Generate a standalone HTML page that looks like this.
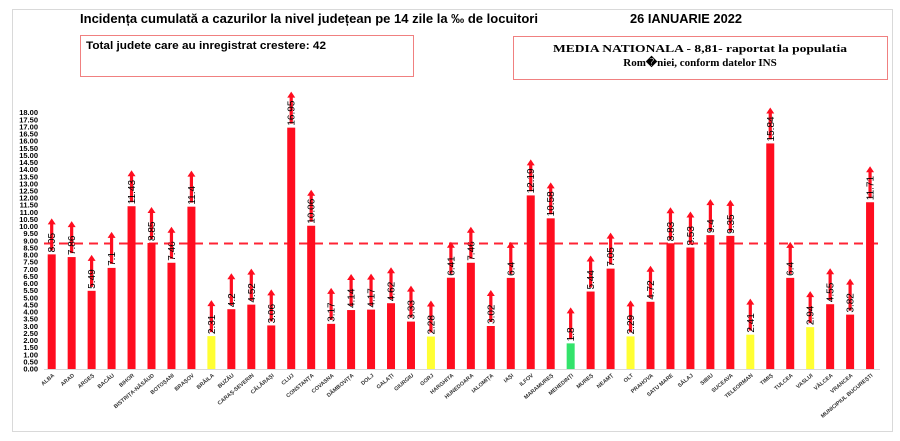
<!DOCTYPE html>
<html><head><meta charset="utf-8">
<style>
html,body{margin:0;padding:0;background:#fff;}
svg{display:block;font-family:"Liberation Sans",sans-serif;}
</style></head>
<body>
<svg id="chart" width="900" height="441" viewBox="0 0 900 441">
  <rect x="12.5" y="9.5" width="880" height="422" fill="#fff" stroke="#d9d9d9"/>
  <text x="80" y="23" font-size="13" font-weight="bold" textLength="458" lengthAdjust="spacingAndGlyphs">Incidența cumulată a cazurilor la nivel județean pe 14 zile la ‰ de locuitori</text>
  <text x="630" y="23" font-size="13" font-weight="bold" textLength="112" lengthAdjust="spacingAndGlyphs">26 IANUARIE 2022</text>
  <rect x="80.5" y="35.5" width="333" height="41" fill="#fff" stroke="#f08080"/>
  <text x="86" y="49" font-size="11" font-weight="bold" textLength="240" lengthAdjust="spacingAndGlyphs">Total judete care au inregistrat crestere: 42</text>
  <rect x="513.5" y="36.5" width="374" height="43" fill="#fff" stroke="#f08080"/>
  <text x="700" y="52" font-size="11" font-weight="bold" font-family="Liberation Serif,serif" text-anchor="middle" textLength="294" lengthAdjust="spacingAndGlyphs">MEDIA NATIONALA - 8,81-  raportat la populatia</text>
  <text x="700" y="66" font-size="11" font-weight="bold" font-family="Liberation Serif,serif" text-anchor="middle">Rom�niei, conform datelor INS</text>
  <g id="yaxis"></g>
  <g id="bars"></g>
  <g id="xlabels"></g>
</svg>
<script>
const categories=["ALBA","ARAD","ARGEȘ","BACĂU","BIHOR","BISTRIȚA-NĂSĂUD","BOTOȘANI","BRAȘOV","BRĂILA","BUZĂU","CARAȘ-SEVERIN","CĂLĂRAȘI","CLUJ","CONSTANȚA","COVASNA","DÂMBOVIȚA","DOLJ","GALAȚI","GIURGIU","GORJ","HARGHITA","HUNEDOARA","IALOMIȚA","IAȘI","ILFOV","MARAMUREȘ","MEHEDINȚI","MUREȘ","NEAMȚ","OLT","PRAHOVA","SATU MARE","SĂLAJ","SIBIU","SUCEAVA","TELEORMAN","TIMIȘ","TULCEA","VASLUI","VÂLCEA","VRANCEA","MUNICIPIUL BUCUREȘTI"];
const values=[8.05,7.86,5.49,7.1,11.43,8.85,7.46,11.4,2.31,4.2,4.52,3.06,16.95,10.06,3.17,4.14,4.17,4.62,3.33,2.28,6.41,7.46,3.02,6.4,12.19,10.58,1.8,5.44,7.05,2.29,4.72,8.83,8.53,9.4,9.35,2.41,15.84,6.4,2.94,4.55,3.82,11.71];
const colorClass=["r","r","r","r","r","r","r","r","y","r","r","r","r","r","r","r","r","r","r","y","r","r","r","r","r","r","g","r","r","y","r","r","r","r","r","y","r","r","y","r","r","r"];
const nationalAverage=8.81;
const yTicks=[0,0.5,1,1.5,2,2.5,3,3.5,4,4.5,5,5.5,6,6.5,7,7.5,8,8.5,9,9.5,10,10.5,11,11.5,12,12.5,13,13.5,14,14.5,15,15.5,16,16.5,17,17.5,18];

const NS="http://www.w3.org/2000/svg";
const y0=369, pxPerUnit=14.24, x0=51.7, step=19.96, bw=8;
const Y=v=>y0-v*pxPerUnit, X=i=>x0+i*step;
const fills={r:"#ff0d1f",y:"#ffff33",g:"#33e36b"};
function mk(t,a,p){const e=document.createElementNS(NS,t);for(const k in a)e.setAttribute(k,a[k]);p.appendChild(e);return e;}
const ya=document.getElementById('yaxis');
yTicks.forEach(t=>{
  const e=mk('text',{x:38,y:Y(t)+2.5,'font-size':7.5,'font-weight':'bold','text-anchor':'end'},ya);
  
  
  e.textContent=t.toFixed(2);
});
const axis=mk('line',{x1:44,x2:880,y1:y0+0.5,y2:y0+0.5,stroke:'#d9d9d9'},ya);


const bars=document.getElementById('bars');
values.forEach((v,i)=>{
  const cx=X(i), top=Y(v);
  const b=mk('rect',{x:cx-bw/2,y:top,width:bw,height:y0-top,fill:fills[colorClass[i]]},bars);
  
  
  const ar=mk('path',{d:`M${cx-1.6} ${top-4}V${top-30}H${cx-4}L${cx} ${top-36}L${cx+4} ${top-30}H${cx+1.6}V${top-4}Z`,fill:'#ff0d1f'},bars);
  
  
  const lb=mk('text',{x:0,y:0,'font-size':10,transform:`translate(${cx+3.5},${top-2}) rotate(-90)`},bars);
  
  
  lb.textContent=String(v);
});
const avg=mk('line',{x1:44,x2:880,y1:Y(nationalAverage),y2:Y(nationalAverage),stroke:'#ff0d1f','stroke-width':2,'stroke-dasharray':'9,6',opacity:0.9},bars);


const xl=document.getElementById('xlabels');
categories.forEach((c,i)=>{
  const e=mk('text',{x:0,y:0,'font-size':5.5,'font-weight':'bold','text-anchor':'end',fill:'#333',transform:`translate(${X(i)+3},${y0+7}) rotate(-40)`},xl);
  
  
  e.textContent=c;
});
</script>
</body></html>
